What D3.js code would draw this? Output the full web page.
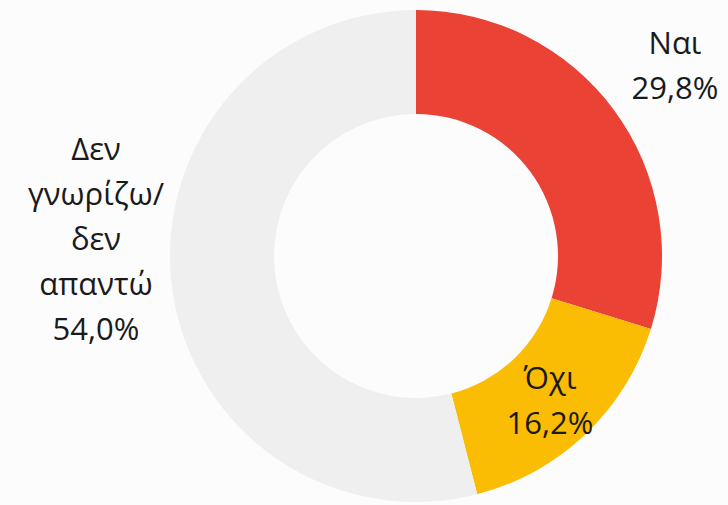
<!DOCTYPE html>
<html>
<head>
<meta charset="utf-8">
<script src="https://cdn.jsdelivr.net/npm/d3@7"></script>
<style>
  body { margin: 0; background: #fcfcfc; }
  svg text { font-family: "Open Sans", sans-serif; fill: #1a1a1a; }
</style>
</head>
<body>
<svg width="728" height="505"></svg>
<script>
// donnees du graphique
var labels = [["Ναι", "29,8%"], ["Όχι", "16,2%"], ["Δεν", "γνωρίζω/", "δεν", "απαντώ", "54,0%"]];
var values = [29.8, 16.2, 54.0];
var colors = ["#EA4335", "#FBBC04", "#EFEFEF"];
// position des etiquettes (centre du bloc)
var labelPos = [[675, 66], [550, 401], [96, 239]];

var svg = d3.select("svg");
var cx = 416, cy = 256;
var rOut = 246, rIn = 142;

var pie = d3.pie().sort(null).value(function(d){ return d; });
var arc = d3.arc().innerRadius(rIn).outerRadius(rOut);

var g = svg.append("g").attr("transform", "translate(" + cx + "," + cy + ")");

g.selectAll("path")
  .data(pie(values))
  .enter()
  .append("path")
  .attr("d", arc)
  .attr("fill", function(d, i){ return colors[i]; });

// etiquettes
var lineH = 45;
labels.forEach(function(lines, i) {
  var t = svg.append("text")
    .attr("text-anchor", "middle")
    .attr("font-size", "31px");
  var y0 = labelPos[i][1] - (lines.length - 1) * lineH / 2;
  lines.forEach(function(s, j) {
    t.append("tspan")
      .attr("x", labelPos[i][0])
      .attr("y", y0 + j * lineH)
      .attr("dy", "0.35em")
      .text(s);
  });
});
</script>
</body>
</html>
